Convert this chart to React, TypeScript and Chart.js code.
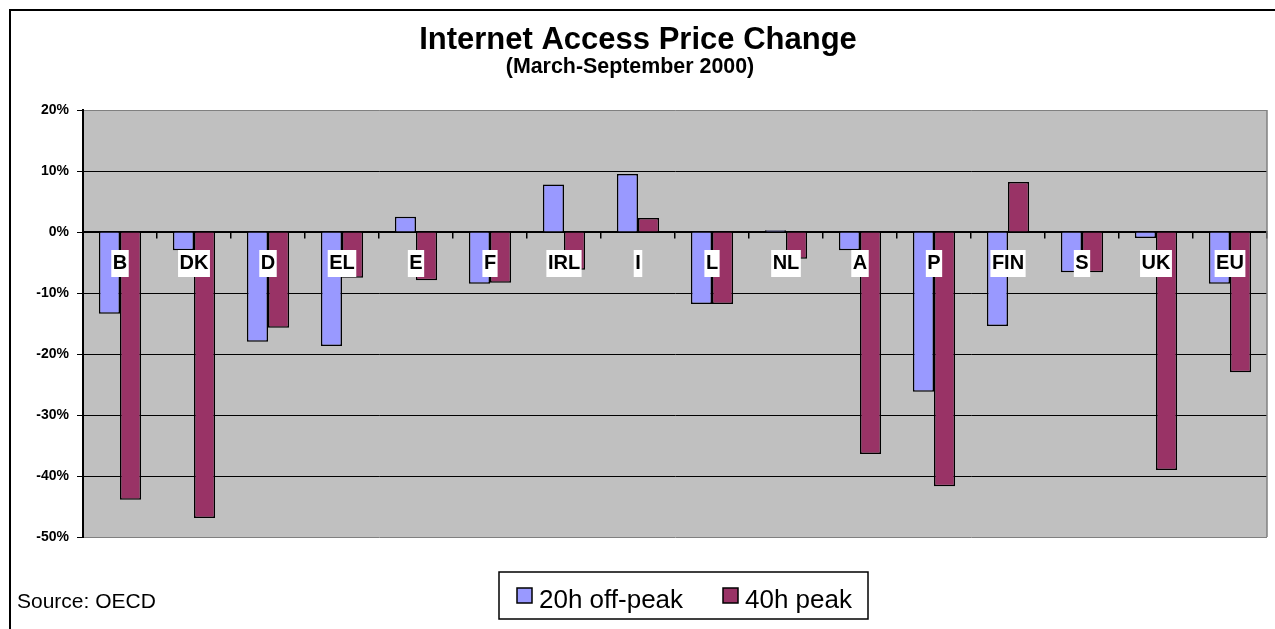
import React, { useEffect, useRef } from 'react';
import { Chart, registerables } from 'chart.js';

Chart.register(...registerables);

const categories = ['B', 'DK', 'D', 'EL', 'E', 'F', 'IRL', 'I', 'L', 'NL', 'A', 'P', 'FIN', 'S', 'UK', 'EU'];
const offPeak = [-13.4, -3.0, -18.0, -18.7, 2.5, -8.5, 7.8, 9.5, -11.8, 0.3, -3.0, -26.2, -15.4, -6.6, -1.0, -8.5];
const peak = [-43.9, -46.9, -15.7, -7.5, -7.9, -8.3, -6.2, 2.3, -11.8, -4.4, -36.4, -41.7, 8.2, -6.6, -39.0, -23.0];
const seriesNames = ['20h off-peak', '40h peak'];
const seriesColors = ['#9999FF', '#993366'];
const yMin = -50;
const yMax = 20;
const yStep = 10;
const titleText = 'Internet Access Price Change';
const subtitleText = '(March-September 2000)';
const sourceText = 'Source: OECD';

const FONT = '"Liberation Sans", Arial, Helvetica, sans-serif';

const decorPlugin = {
  id: 'decor',
  beforeDraw(chart: any) {
    const { ctx, chartArea: a, width, height } = chart;
    ctx.save();
    ctx.fillStyle = '#FFFFFF';
    ctx.fillRect(0, 0, width, height);
    ctx.fillStyle = '#C0C0C0';
    ctx.fillRect(a.left, a.top, a.right - a.left, a.bottom - a.top);
    ctx.restore();
  },
  afterDraw(chart: any) {
    const { ctx, chartArea: a, width, height } = chart;
    ctx.save();
    // plot area right edge
    ctx.strokeStyle = '#808080';
    ctx.lineWidth = 1.5;
    ctx.beginPath();
    ctx.moveTo(a.right, a.top);
    ctx.lineTo(a.right, a.bottom);
    ctx.stroke();

    // outer frame (left and top)
    ctx.strokeStyle = '#000000';
    ctx.lineWidth = 2;
    ctx.beginPath();
    ctx.moveTo(10, height);
    ctx.lineTo(10, 10);
    ctx.lineTo(width, 10);
    ctx.stroke();

    // titles
    ctx.fillStyle = '#000000';
    ctx.textAlign = 'center';
    ctx.textBaseline = 'alphabetic';
    ctx.font = `bold 31px ${FONT}`;
    ctx.fillText(titleText, 638, 49);
    ctx.font = `bold 21.4px ${FONT}`;
    ctx.fillText(subtitleText, 630, 73);

    // source
    ctx.textAlign = 'left';
    ctx.font = `21px ${FONT}`;
    ctx.fillText(sourceText, 17, 608);

    // legend
    ctx.strokeStyle = '#000000';
    ctx.lineWidth = 1.5;
    ctx.strokeRect(499, 572, 369, 47);
    const items = [
      { x: 517, tx: 539 },
      { x: 723, tx: 745 },
    ];
    ctx.font = `26px ${FONT}`;
    items.forEach((it, i) => {
      ctx.fillStyle = seriesColors[i];
      ctx.fillRect(it.x, 588, 15, 15);
      ctx.strokeStyle = '#000000';
      ctx.lineWidth = 1.5;
      ctx.strokeRect(it.x, 588, 15, 15);
      ctx.fillStyle = '#000000';
      ctx.fillText(seriesNames[i], it.tx, 608);
    });
    ctx.restore();
  },
};

export default function App() {
  const ref = useRef<HTMLCanvasElement | null>(null);

  useEffect(() => {
    if (!ref.current) return;
    const chart = new Chart(ref.current, {
      type: 'bar',
      data: {
        labels: categories,
        datasets: [
          {
            label: seriesNames[0],
            data: offPeak,
            backgroundColor: seriesColors[0],
            borderColor: '#000000',
            borderWidth: 1.5,
            categoryPercentage: 0.57,
            barPercentage: 1.0,
          },
          {
            label: seriesNames[1],
            data: peak,
            backgroundColor: seriesColors[1],
            borderColor: '#000000',
            borderWidth: 1.5,
            categoryPercentage: 0.57,
            barPercentage: 1.0,
          },
        ],
      },
      options: {
        animation: false,
        responsive: false,
        devicePixelRatio: 1,
        layout: { padding: { top: 110, bottom: 92, left: 0, right: 8 } },
        plugins: {
          legend: { display: false },
          title: { display: false },
          tooltip: { enabled: false },
        },
        scales: {
          x: {
            type: 'category',
            position: { y: 0 } as any,
            offset: true,
            grid: {
              offset: true,
              drawOnChartArea: false,
              drawTicks: true,
              tickLength: 6,
              color: '#000000',
              tickColor: '#000000',
              lineWidth: 1.5,
            },
            border: { display: true, color: '#000000', width: 1.5 },
            ticks: {
              z: 1,
              autoSkip: false,
              maxRotation: 0,
              minRotation: 0,
              padding: 13.5,
              color: '#000000',
              font: { family: FONT, size: 20, weight: 'bold', lineHeight: 1.2 },
              showLabelBackdrop: true,
              backdropColor: '#FFFFFF',
              backdropPadding: { top: 1.5, bottom: 1.5, left: 1.5, right: 1.5 },
            } as any,
          } as any,
          y: {
            type: 'linear',
            min: yMin,
            max: yMax,
            afterFit: (scale: any) => {
              scale.width = 83;
            },
            grid: {
              color: (c: any) =>
                c.tick && (c.tick.value === yMax || c.tick.value === yMin) ? '#808080' : '#000000',
              lineWidth: 1,
              tickColor: '#000000',
              tickLength: 6,
              drawTicks: true,
            },
            border: { display: true, color: '#000000', width: 2 },
            ticks: {
              stepSize: yStep,
              padding: 8,
              color: '#000000',
              font: { family: FONT, size: 14, weight: 'bold' },
              callback: (v: any) => `${v}%`,
            },
          },
        },
      },
      plugins: [decorPlugin],
    });
    return () => chart.destroy();
  }, []);

  return (
    <div style={{ position: 'absolute', left: 0, top: 0, width: 1275, height: 629 }}>
      <canvas ref={ref} width={1275} height={629} style={{ display: 'block' }} />
    </div>
  );
}
